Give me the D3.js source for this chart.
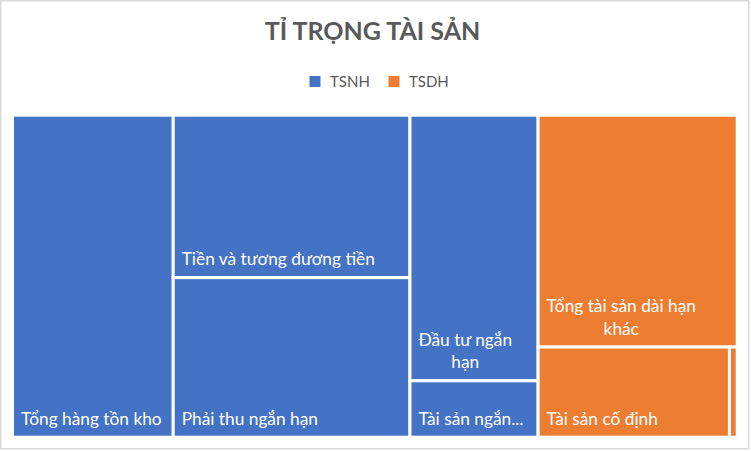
<!DOCTYPE html>
<html>
<head>
<meta charset="utf-8">
<script src="https://cdn.jsdelivr.net/npm/d3@7"></script>
<style>
  html, body { margin: 0; padding: 0; background: #ffffff; }
  svg { display: block; }
</style>
</head>
<body>
<svg id="chart" width="751" height="451"></svg>
<script>
// ---- Data (shares of total assets, %) ----
const title = "TỈ TRỌNG TÀI SẢN";
const groups = ["TSNH", "TSDH"];
const groupColors = ["#4472C4", "#ED7D31"];
const categories = [
  "Tổng hàng tồn kho",
  "Tiền và tương đương tiền",
  "Phải thu ngắn hạn",
  "Đầu tư ngắn hạn",
  "Tài sản ngắn hạn khác",
  "Tổng tài sản dài hạn khác",
  "Tài sản cố định",
  "Bất động sản đầu tư"
];
const categoryGroups = ["TSNH", "TSNH", "TSNH", "TSNH", "TSNH", "TSDH", "TSDH", "TSDH"];
const values = [22.2, 16.5, 16.2, 14.6, 3.1, 19.8, 7.4, 0.3];

// ---- Layout ----
const svg = d3.select("#chart");
const FONT = "Lato, 'Open Sans', 'Noto Sans', sans-serif";
const plot = { x: 12.5, y: 115.2, w: 724.7, h: 322 };
const gap = 3;

// outer chart border
svg.append("rect")
  .attr("x", 0.75).attr("y", 0.75)
  .attr("width", 748).attr("height", 448)
  .attr("fill", "#ffffff")
  .attr("stroke", "#d9d9d9").attr("stroke-width", 1.5);

// title
svg.append("text")
  .attr("x", 372.5).attr("y", 39.5)
  .attr("text-anchor", "middle")
  .attr("font-family", FONT)
  .attr("font-weight", "bold")
  .attr("font-size", 25)
  .attr("fill", "#595959")
  .text(title);

// legend
const color = d3.scaleOrdinal().domain(groups).range(groupColors);
const legendX = d3.scalePoint().domain(groups).range([309.5, 388.5]);
const lg = svg.append("g").selectAll("g").data(groups).join("g")
  .attr("transform", d => `translate(${legendX(d)},76)`);
lg.append("rect").attr("width", 11).attr("height", 11).attr("fill", d => color(d));
lg.append("text")
  .attr("x", 20.5).attr("y", 11.2)
  .attr("font-family", FONT).attr("font-size", 15)
  .attr("fill", "#595959")
  .text(d => d);

// hierarchy
const rootData = {
  name: "root",
  children: groups.map(g => ({
    name: g,
    children: categories
      .map((c, i) => ({ name: c, group: categoryGroups[i], value: values[i] }))
      .filter(d => d.group === g)
  }))
};
const root = d3.hierarchy(rootData)
  .sum(d => d.value || 0)
  .sort((a, b) => b.value - a.value);

d3.treemap()
  .size([plot.w, plot.h])
  .tile(d3.treemapSquarify.ratio(1))
  .round(false)(root);

const g = svg.append("g").attr("transform", `translate(${plot.x},${plot.y})`);
const leaves = root.leaves();

const cell = g.selectAll("g.cell").data(leaves).join("g").attr("class", "cell");
cell.append("rect")
  .attr("x", d => d.x0).attr("y", d => d.y0)
  .attr("width", d => d.x1 - d.x0).attr("height", d => d.y1 - d.y0)
  .attr("fill", d => color(d.data.group))
  .attr("stroke", "#ffffff").attr("stroke-width", gap);

// labels: bottom-left, wrapped, lines centred inside the text block
const fontSize = 17.3, lineH = 22.5, pad = 7, baseOff = 11;
const measurer = svg.append("text")
  .attr("font-family", FONT).attr("font-size", fontSize)
  .attr("visibility", "hidden");
const measure = s => { measurer.text(s); return measurer.node().getComputedTextLength(); };

leaves.forEach((d, idx) => {
  const fx0 = d.x0 + gap / 2, fx1 = d.x1 - gap / 2;
  const fy0 = d.y0 + gap / 2, fy1 = d.y1 - gap / 2;
  const availW = (fx1 - fx0) - 2 * pad;
  const availH = (fy1 - fy0) - 2 * pad;
  if (availW < 20 || availH < 14) return;
  const maxLines = Math.max(1, Math.floor(availH / lineH));
  const words = d.data.name.split(" ");
  let lines = [], cur = "";
  words.forEach(w => {
    const t = cur ? cur + " " + w : w;
    if (measure(t) <= availW || !cur) cur = t;
    else { lines.push(cur); cur = w; }
  });
  if (cur) lines.push(cur);
  if (lines.length > maxLines) {
    let last = lines.slice(maxLines - 1).join(" ");
    while (last.length > 1 && measure(last + "...") > availW) last = last.slice(0, -1);
    last = last.replace(/\s+$/, "") + "...";
    lines = lines.slice(0, maxLines - 1).concat([last]);
  }
  const blockW = d3.max(lines, l => measure(l));
  const cx = fx0 + pad + blockW / 2;
  const t = g.append("text")
    .attr("font-family", FONT).attr("font-size", fontSize)
    .attr("fill", "#ffffff").attr("text-anchor", "middle");
  lines.forEach((l, i) => {
    t.append("tspan")
      .attr("x", cx)
      .attr("y", fy1 - baseOff - (lines.length - 1 - i) * lineH)
      .text(l);
  });
});
measurer.remove();
</script>
</body>
</html>
